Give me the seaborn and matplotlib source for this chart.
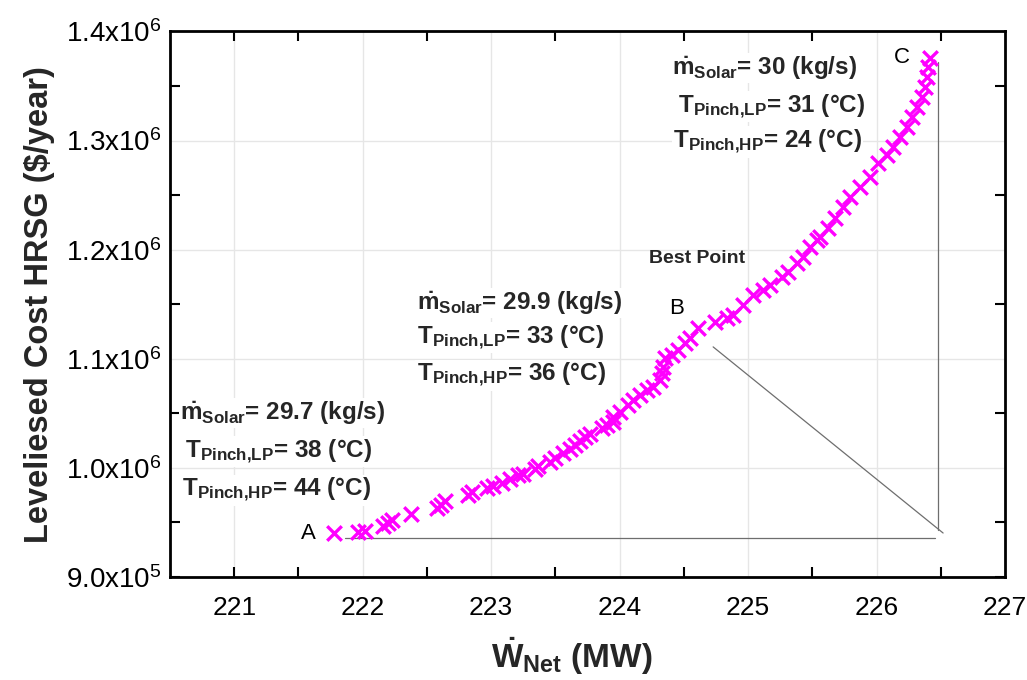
import numpy as np
import pandas as pd
import matplotlib
matplotlib.use("Agg")
import matplotlib.pyplot as plt
import seaborn as sns
from matplotlib.ticker import FixedLocator, FuncFormatter

# ---------------- data ----------------
w_net = [221.778, 221.965, 222.019, 222.160, 222.198, 222.230, 222.377, 222.580,
         222.611, 222.642, 222.821, 222.852, 222.969, 223.016, 223.086, 223.148,
         223.210, 223.249, 223.342, 223.366, 223.459, 223.498, 223.560, 223.615,
         223.654, 223.693, 223.732, 223.770, 223.864, 223.903, 223.949, 223.949,
         224.004, 224.066, 224.105, 224.160, 224.214, 224.261, 224.315, 224.331,
         224.339, 224.354, 224.409, 224.455, 224.510, 224.549, 224.611, 224.743,
         224.837, 224.883, 224.961, 225.039, 225.117, 225.171, 225.265, 225.311,
         225.381, 225.428, 225.482, 225.537, 225.560, 225.623, 225.677, 225.739,
         225.794, 225.872, 225.949, 226.012, 226.082, 226.128, 226.183, 226.237,
         226.276, 226.315, 226.354, 226.377, 226.393, 226.401, 226.416]
cost = [0.9403, 0.9412, 0.9422, 0.9467, 0.9495, 0.9522, 0.9577, 0.9632,
        0.9660, 0.9697, 0.9752, 0.9779, 0.9816, 0.9834, 0.9862, 0.9898,
        0.9935, 0.9944, 0.9990, 1.0017, 1.0054, 1.0091, 1.0137, 1.0173,
        1.0210, 1.0247, 1.0283, 1.0311, 1.0366, 1.0393, 1.0421, 1.0467,
        1.0512, 1.0577, 1.0622, 1.0668, 1.0714, 1.0742, 1.0806, 1.0870,
        1.0925, 1.1007, 1.1035, 1.1081, 1.1145, 1.1191, 1.1282, 1.1337,
        1.1374, 1.1401, 1.1493, 1.1585, 1.1631, 1.1676, 1.1750, 1.1796,
        1.1878, 1.1933, 1.2025, 1.2089, 1.2116, 1.2199, 1.2291, 1.2391,
        1.2483, 1.2575, 1.2666, 1.2795, 1.2868, 1.2941, 1.3033, 1.3125,
        1.3216, 1.3308, 1.3400, 1.3491, 1.3583, 1.3675, 1.3757]
cost = [c * 1e6 for c in cost]

# guide lines (A-line, C-line, B-line)
line_a_x = [221.86, 226.455]
line_a_y = [0.9357e6, 0.9357e6]
line_c_x = [226.475, 226.475]
line_c_y = [1.372e6, 0.943e6]
line_b_x = [224.728, 226.518]
line_b_y = [1.1109e6, 0.9403e6]

point_labels = ["A", "B", "C"]
point_label_x = [221.576, 224.447, 226.198]
point_label_y = [0.9403e6, 1.1465e6, 1.3766e6]

best_label = "Best Point"
best_x, best_y = 224.603, 1.1923e6

blocks = [
    [r"$\mathregular{\dot{m}_{Solar}}$= 29.7 (kg/s)",
     r"$\mathregular{T_{Pinch{,}LP}}$= 38 (°C)",
     r"$\mathregular{T_{Pinch{,}HP}}$= 44 (°C)"],
    [r"$\mathregular{\dot{m}_{Solar}}$= 29.9 (kg/s)",
     r"$\mathregular{T_{Pinch{,}LP}}$= 33 (°C)",
     r"$\mathregular{T_{Pinch{,}HP}}$= 36 (°C)"],
    [r"$\mathregular{\dot{m}_{Solar}}$= 30 (kg/s)",
     r"$\mathregular{T_{Pinch{,}LP}}$= 31 (°C)",
     r"$\mathregular{T_{Pinch{,}HP}}$= 24 (°C)"],
]
block_x = [[220.580, 220.619, 220.595],
           [222.420, 222.420, 222.420],
           [224.409, 224.455, 224.416]]
block_y = [[1.0503e6, 1.0146e6, 0.9797e6],
           [1.1511e6, 1.1191e6, 1.0851e6],
           [1.3665e6, 1.3308e6, 1.2987e6]]

x_ticks = [221, 222, 223, 224, 225, 226, 227]
y_ticks = [0.9e6, 1.0e6, 1.1e6, 1.2e6, 1.3e6, 1.4e6]
x_minor = [221, 221.5, 222.5, 223.5, 224.5, 225.5, 226.5]
y_minor = [0.9e6, 0.95e6, 1.05e6, 1.15e6, 1.25e6, 1.35e6]

# ---------------- style ----------------
sns.set_theme(style="white")
plt.rcParams["font.family"] = ["Liberation Sans", "DejaVu Sans"]
plt.rcParams["mathtext.fontset"] = "custom"

fig = plt.figure(figsize=(10.27, 6.8), dpi=100)
ax = fig.add_axes([0.1655, 0.1515, 0.9786 - 0.1655, 0.9537 - 0.1515])

df = pd.DataFrame({"W": w_net, "C": cost})
sns.scatterplot(data=df, x="W", y="C", marker="x", color="#FF00FF",
                s=110, linewidth=2.4, ax=ax, zorder=3)

for lx, ly in [(line_a_x, line_a_y), (line_c_x, line_c_y), (line_b_x, line_b_y)]:
    ax.plot(lx, ly, color="#6e6e6e", lw=0.9, zorder=2)

for lab, lx, ly in zip(point_labels, point_label_x, point_label_y):
    ax.text(lx, ly, lab, fontsize=16, ha="center", va="center", color="black")

ax.text(best_x, best_y, best_label, fontsize=14, fontweight="bold",
        ha="center", va="center")

for blk, bx, by in zip(blocks, block_x, block_y):
    for t, tx, ty in zip(blk, bx, by):
        ax.text(tx, ty, t, fontsize=17.5, fontweight="bold", ha="left",
                va="center", zorder=4,
                bbox=dict(facecolor="white", edgecolor="none", pad=1.0))

ax.set_xlim(220.5, 227.0)
ax.set_ylim(0.9e6, 1.4e6)

ax.xaxis.set_major_locator(FixedLocator(x_ticks))
ax.yaxis.set_major_locator(FixedLocator(y_ticks))
ax.xaxis.set_minor_locator(FixedLocator(x_minor))
ax.yaxis.set_minor_locator(FixedLocator(y_minor))
ax.xaxis.remove_overlapping_locs = False
ax.yaxis.remove_overlapping_locs = False


def yfmt(v, pos):
    e = int(np.floor(np.log10(v) + 1e-9))
    m = v / 10 ** e
    return r"$\mathregular{%.1fx10^{%d}}$" % (m, e)


ax.yaxis.set_major_formatter(FuncFormatter(yfmt))
ax.xaxis.set_major_formatter(FuncFormatter(lambda v, p: f"{v:.0f}"))

ax.tick_params(which="major", length=0, labelsize=20, colors="black", pad=6)
ax.tick_params(axis="x", which="major", pad=14, labelsize=19)
ax.tick_params(which="minor", direction="in", length=7, width=1.5,
               top=True, right=True, bottom=True, left=True, color="black")

ax.grid(True, which="major", color="#e6e6e6", lw=1.0)
ax.set_axisbelow(True)
for sp in ax.spines.values():
    sp.set_visible(True)
    sp.set_color("black")
    sp.set_linewidth(2.0)

ax.set_xlabel(r"$\mathregular{\dot{W}_{Net}}$ (MW)", fontsize=24,
              fontweight="bold")
ax.set_ylabel("Leveliesed Cost HRSG ($/year)", fontsize=23.5,
              fontweight="bold")
ax.xaxis.set_label_coords(0.481, -0.108)
ax.yaxis.set_label_coords(-0.138, 0.5)

fig.savefig("out.png", dpi=100, facecolor="white")
